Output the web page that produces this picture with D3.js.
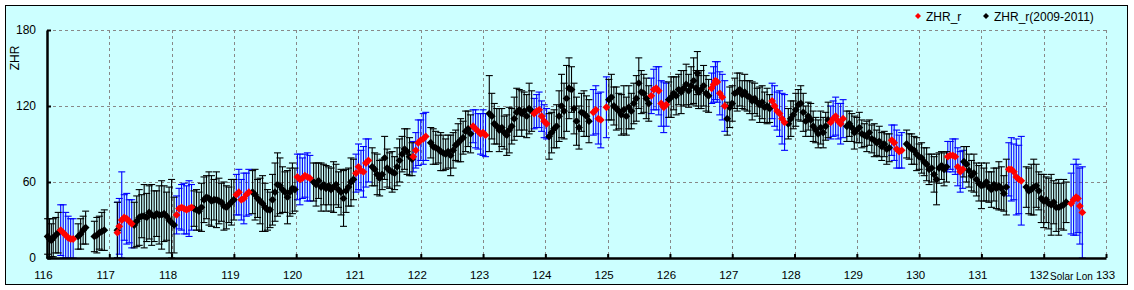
<!DOCTYPE html>
<html><head><meta charset="utf-8">
<script src="https://cdn.jsdelivr.net/npm/d3@7"></script>
<style>
html,body{margin:0;padding:0;background:#fff;}
svg{display:block;font-family:"Liberation Sans",Arial,sans-serif;}
</style></head>
<body><svg id="c" width="1134" height="290"></svg>
<script>
// ---- Data ----
const xTicks = [116,117,118,119,120,121,122,123,124,125,126,127,128,129,130,131,132,133];
const yTicks = [0,60,120,180];
const seriesNames = ["ZHR_r","ZHR_r(2009-2011)"];

// ZHR_r (current year, red markers, blue error bars)
const redLon = [116.22,116.26,116.30,116.34,116.38,116.42,
  117.13,117.16,117.20,117.24,117.28,117.32,117.36,
  118.08,118.12,118.16,118.20,118.24,118.28,118.32,
  119.04,119.08,119.12,119.16,119.20,119.24,
  120.02,120.06,120.10,120.14,120.18,120.22,
  120.96,121.00,121.04,121.08,121.12,121.16,
  121.88,121.92,121.96,122.00,122.04,122.08,
  122.84,122.88,122.92,122.96,123.00,123.04,
  123.82,123.86,123.90,123.94,123.98,124.02,
  124.77,124.81,124.85,124.89,124.98,
  125.70,125.74,125.78,125.82,125.86,125.90,125.94,
  126.67,126.70,126.73,126.76,126.80,126.84,126.88,
  127.64,127.68,127.72,127.76,127.80,127.84,
  128.58,128.62,128.66,128.70,128.74,128.78,
  129.56,129.60,129.64,129.68,129.72,
  130.46,130.50,130.54,130.58,130.62,130.66,130.70,
  131.44,131.48,131.52,131.56,131.60,131.64,
  132.44,132.48,132.52,132.55,132.58,132.62];
const redZhr = [22,20,18,16,15,15,
  20,25,30,32,31,29,27,
  34,39,40,39,38,39,40,
  50,52,46,47,50,52,
  64,62,63,65,64,63,
  67,72,69,68,75,77,
  80,85,91,93,94,96,
  104,102,100,98,99,97,
  114,116,117,112,108,106,
  115,117,110,109,119,
  128,133,134,132,122,119,121,
  134,137,140,139,130,127,120,
  124,120,116,114,110,107,
  107,110,112,108,106,110,
  93,91,86,84,85,
  80,81,81,80,72,68,70,
  70,70,68,64,62,61,
  43,46,48,47,41,36];
const redErr = [20,22,18,17,16,16,
  24,22,38,18,20,17,19,
  15,16,18,20,19,22,18,
  16,18,16,20,17,18,
  18,20,16,17,19,18,
  15,18,16,20,19,17,
  12,14,18,16,20,19,
  13,15,14,16,18,17,
  12,13,14,12,13,12,
  18,19,20,22,24,
  14,16,17,19,18,20,17,
  12,14,15,16,17,18,20,
  14,16,15,18,20,22,
  13,14,15,14,16,15,
  12,14,15,13,14,
  12,11,13,14,15,16,15,
  21,25,22,30,27,35,
  24,28,30,27,30,36];

// ZHR_r(2009-2011) (black markers, black error bars)
const blackLon = [116.01,116.04,116.07,116.10,116.14,116.18,
  116.50,116.54,116.58,116.62,
  116.76,116.80,116.84,116.88,116.92,
  117.13,
  117.40,117.44,117.48,117.52,117.56,117.60,117.64,117.68,117.72,117.76,117.80,117.84,117.88,117.92,117.96,118.00,118.04,
  118.36,118.40,118.44,118.48,118.52,118.56,118.60,118.64,118.68,118.72,118.76,118.80,118.84,118.88,118.92,118.96,119.00,
  119.30,119.34,119.38,119.42,119.46,119.50,119.54,119.58,119.62,119.66,119.70,119.74,119.78,119.82,119.86,119.90,119.94,119.98,
  120.28,120.32,120.36,120.40,120.44,120.48,120.52,120.56,120.60,120.64,120.68,120.72,120.76,120.80,120.84,120.88,120.92,
  121.22,121.26,121.30,121.34,121.38,121.42,121.46,121.50,121.54,121.58,121.62,121.66,121.70,121.74,121.78,121.82,121.86,
  122.16,122.20,122.24,122.28,122.32,122.36,122.40,122.44,122.48,122.52,122.56,122.60,122.64,122.68,122.72,122.76,122.80,
  123.10,123.14,123.18,123.22,123.26,123.30,123.34,123.38,123.42,123.46,123.50,123.54,123.58,123.62,123.66,123.70,123.74,123.78,
  124.06,124.10,124.14,124.18,124.22,124.26,124.30,124.34,124.38,124.42,124.46,124.50,124.54,124.58,124.62,124.66,124.70,
  125.02,125.06,125.10,125.14,125.18,125.22,125.26,125.30,125.34,125.38,125.42,125.46,125.50,125.54,125.58,125.62,125.66,
  125.98,126.02,126.06,126.10,126.14,126.18,126.22,126.26,126.30,126.34,126.38,126.42,126.44,126.46,126.50,126.54,126.58,126.62,
  126.92,126.96,127.00,127.04,127.08,127.12,127.16,127.20,127.24,127.28,127.32,127.36,127.40,127.44,127.48,127.52,127.56,127.60,
  127.90,127.94,127.98,128.02,128.06,128.10,128.14,128.18,128.22,128.26,128.30,128.34,128.38,128.42,128.46,128.50,128.54,
  128.84,128.88,128.92,128.96,129.00,129.04,129.08,129.12,129.16,129.20,129.24,129.28,129.32,129.36,129.40,129.44,129.48,129.52,
  129.80,129.84,129.88,129.92,129.96,130.00,130.04,130.08,130.12,130.16,130.20,130.24,130.28,130.32,130.36,130.40,130.44,
  130.72,130.76,130.80,130.84,130.88,130.92,130.96,131.00,131.04,131.08,131.12,131.16,131.20,131.24,131.28,131.32,131.36,131.40,
  131.72,131.76,131.80,131.84,131.88,131.92,131.96,132.00,132.04,132.08,132.12,132.16,132.20,132.24,132.28,132.32,132.36];
const blackZhr = [17,15,14,16,18,20,
  17,19,22,24,
  17,18,20,21,22,
  22,
  26,29,32,33,33,32,36,34,33,35,34,34,35,33,30,28,26,
  39,38,37,40,46,48,47,45,46,46,45,44,41,40,42,44,46,
  52,50,47,45,43,40,38,38,46,52,58,57,54,52,48,52,55,54,
  60,58,61,56,58,55,57,54,56,58,54,52,47,53,56,60,62,
  72,70,66,63,66,79,71,69,68,67,72,77,82,86,84,80,78,
  91,88,87,86,84,83,82,84,81,85,89,91,93,95,100,102,98,
  114,112,106,104,101,103,99,97,101,104,110,115,117,114,116,112,118,116,
  96,99,102,104,112,120,116,126,134,133,118,108,103,115,114,112,108,
  125,127,120,118,116,113,117,112,119,116,122,126,138,131,130,126,122,
  125,127,130,128,133,131,134,137,132,136,140,134,146,131,133,136,130,128,
  110,119,122,130,131,133,129,131,128,127,124,126,123,121,123,119,120,118,
  106,110,113,117,121,122,115,108,112,109,104,101,98,103,99,104,109,
  104,106,103,99,101,103,98,97,96,99,94,93,91,92,88,90,86,87,
  90,88,86,85,82,80,79,76,74,70,71,66,62,71,73,70,72,
  76,74,69,65,67,62,59,57,58,60,56,54,58,55,57,55,51,56,
  56,53,54,56,57,53,47,45,46,43,42,44,40,40,41,42,44];
const blackErr = [14,16,13,15,14,16,
  10,12,11,13,
  12,14,13,15,16,
  22,
  18,20,22,17,25,19,21,24,20,18,23,27,22,19,26,34,22,
  14,16,15,19,18,17,21,20,16,22,18,15,19,17,14,18,16,
  17,20,15,18,22,19,16,14,20,23,25,22,18,16,21,19,20,17,
  15,17,14,19,16,18,15,17,20,16,14,18,22,17,15,19,16,
  15,13,16,14,12,17,15,14,16,13,15,17,14,16,18,15,13,
  12,14,13,11,15,14,12,13,16,14,12,15,17,13,16,14,15,
  30,18,16,14,17,15,13,16,18,14,17,19,16,18,15,17,20,16,
  18,16,15,17,20,25,22,26,24,18,20,19,17,15,18,16,17,
  16,18,15,17,14,16,19,15,17,14,16,18,20,17,15,16,14,
  14,16,13,15,12,17,14,16,13,15,18,14,17,13,15,16,14,13,
  13,16,14,12,15,13,11,14,12,13,15,12,11,14,13,12,14,11,
  12,14,11,13,12,14,15,12,11,13,12,10,11,13,12,11,14,
  12,10,11,13,10,12,11,9,12,10,11,13,10,12,11,10,12,11,
  11,10,12,11,13,10,12,11,13,12,11,14,20,12,11,13,12,
  12,14,13,12,15,13,14,18,13,15,12,14,13,16,19,17,14,22,
  16,18,20,22,17,15,19,21,18,20,24,17,19,22,18,20,16];

// ---- Chart ----
const svg = d3.select("#c");
const bg = "#CCFFFF";
const FONT = "Liberation Sans, Arial, sans-serif";
svg.append("rect").attr("x",5.5).attr("y",5.5).attr("width",1122).attr("height",279)
  .attr("fill",bg).attr("stroke","#000").attr("stroke-width",1);

const x = d3.scaleLinear().domain([116,133]).range([47,1106]);
const y = d3.scaleLinear().domain([0,180]).range([258,30]);

// grid
const g = svg.append("g");
g.selectAll("line.vg").data(xTicks.filter(d=>d>116)).join("line")
  .attr("x1",d=>Math.round(x(d))+0.5).attr("x2",d=>Math.round(x(d))+0.5)
  .attr("y1",y(180)).attr("y2",y(0))
  .attr("stroke","#888").attr("stroke-dasharray","3,3");
g.selectAll("line.hg").data(yTicks.filter(d=>d>0)).join("line")
  .attr("x1",x(116)).attr("x2",x(133))
  .attr("y1",d=>Math.round(y(d))+0.5).attr("y2",d=>Math.round(y(d))+0.5)
  .attr("stroke","#888").attr("stroke-dasharray","3,3");

function drawSeries(lon, zhr, err, barColor){
  const pts = lon.map((l,i)=>({l, v:zhr[i], e:err[i]}));
  const eb = svg.append("g").attr("stroke",barColor).attr("stroke-width",1.1);
  pts.forEach(p=>{
    const cx = x(p.l);
    const top = y(Math.min(180,p.v+p.e)), bot = y(Math.max(0,p.v-p.e));
    eb.append("line").attr("x1",cx).attr("x2",cx).attr("y1",top).attr("y2",bot);
    eb.append("line").attr("x1",cx-3.5).attr("x2",cx+3.5).attr("y1",top).attr("y2",top);
    eb.append("line").attr("x1",cx-3.5).attr("x2",cx+3.5).attr("y1",bot).attr("y2",bot);
  });
  return pts;
}
const dia = r => `M0,${-r}L${r},0L0,${r}L${-r},0Z`;
const redPts = drawSeries(redLon, redZhr, redErr, "#0000FF");
const blackPts = drawSeries(blackLon, blackZhr, blackErr, "#000000");
svg.append("g").selectAll("path").data(blackPts).join("path")
  .attr("d",dia(3.9)).attr("fill","#000")
  .attr("transform",d=>`translate(${x(d.l)},${y(d.v)})`);
svg.append("g").selectAll("path").data(redPts).join("path")
  .attr("d",dia(3.9)).attr("fill","#FF0000")
  .attr("transform",d=>`translate(${x(d.l)},${y(d.v)})`);

// axes
const xAxis = d3.axisBottom(x).tickValues(xTicks).tickSize(-4).tickSizeOuter(0).tickPadding(13)
  .tickFormat(d3.format("d"));
const xa = svg.append("g").attr("transform",`translate(0,${y(0)})`).call(xAxis);
xa.select(".domain").attr("stroke-width",2.5);
xa.selectAll(".tick line").attr("stroke-width",2);
xa.selectAll(".tick text").attr("font-size",11.5).attr("font-family",FONT)
  .attr("dx",d=>d===133?-1:(d===132?-5:-4)).attr("fill","#000");

const yAxis = d3.axisLeft(y).tickValues(yTicks).tickSize(-4).tickSizeOuter(0).tickPadding(11)
  .tickFormat(d3.format("d"));
const ya = svg.append("g").attr("transform",`translate(${x(116)},0)`).call(yAxis);
ya.select(".domain").attr("stroke-width",2.5);
ya.selectAll(".tick line").attr("stroke-width",2);
ya.selectAll(".tick text").attr("font-size",12).attr("font-family",FONT)
  .attr("fill","#000");

// axis titles
svg.append("text").attr("x",1050).attr("y",280).attr("font-size",10).attr("font-family",FONT)
  .text("Solar Lon");
svg.append("text").attr("transform","translate(19,58) rotate(-90)").attr("text-anchor","middle")
  .attr("font-size",12).attr("font-family",FONT).text("ZHR");

// legend
const legend = svg.append("g");
const legX = [918, 986];
const legC = ["#FF0000","#000000"];
seriesNames.forEach((n,i)=>{
  legend.append("path").attr("d",dia(3))
    .attr("fill",legC[i]).attr("transform",`translate(${legX[i]},16)`);
  legend.append("text").attr("x",legX[i]+8).attr("y",20.5).attr("font-size",12)
    .attr("font-family",FONT).text(n);
});
</script></body></html>
